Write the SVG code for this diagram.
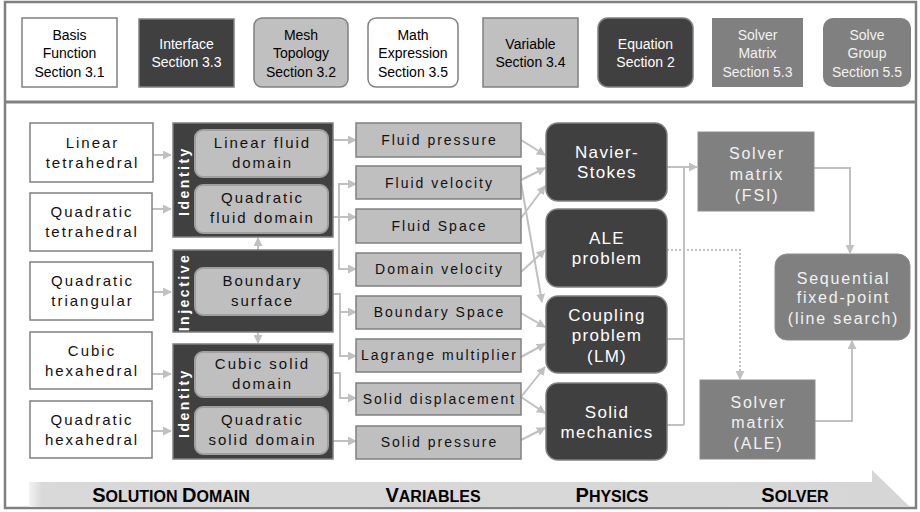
<svg xmlns="http://www.w3.org/2000/svg" width="920" height="512" viewBox="0 0 920 512">
<defs>
<marker id="ah" viewBox="0 0 10 10" refX="9" refY="5" markerWidth="9" markerHeight="9" markerUnits="userSpaceOnUse" orient="auto">
<path d="M0,0 L10,5 L0,10 z" fill="#c0c0c0"/>
</marker>
<linearGradient id="ban" x1="29" y1="0" x2="910" y2="0" gradientUnits="userSpaceOnUse">
<stop offset="0" stop-color="#f2f2f2"/>
<stop offset="0.015" stop-color="#d9d9d9"/>
<stop offset="1" stop-color="#d6d6d6"/>
</linearGradient>
</defs>
<style>
.lg{font-family:'Liberation Sans Narrow','Liberation Sans',Arial,sans-serif;font-size:14px;text-anchor:middle}
.dk{fill:#ffffff}
.bk{fill:#000000}
.mesh{fill:#ffffff;stroke:#808080;stroke-width:1.5}
.cont{fill:#404040;stroke:#808080;stroke-width:1.5}
.inner{fill:#bfbfbf;stroke:#a0a0a0;stroke-width:2}
.var{fill:#bfbfbf;stroke:#808080;stroke-width:1.5}
.phy{fill:#404040;stroke:#808080;stroke-width:1.5}
.sol{fill:#808080;stroke:#8c8c8c;stroke-width:1}
.t15{font-family:'Liberation Sans',Arial,sans-serif;font-size:15px;letter-spacing:2px;text-anchor:middle;fill:#111}
.t14{font-family:'Liberation Sans',Arial,sans-serif;font-size:14px;letter-spacing:2px;text-anchor:middle;fill:#111}
.tp{font-family:'Liberation Sans',Arial,sans-serif;font-size:17px;letter-spacing:1.3px;text-anchor:middle;fill:#ffffff}
.ts{font-family:'Liberation Sans',Arial,sans-serif;font-size:16px;letter-spacing:1.8px;text-anchor:middle;fill:#f2f2f2}
.rot{font-family:'Liberation Sans',Arial,sans-serif;font-size:14px;font-weight:bold;letter-spacing:2.5px;text-anchor:middle;fill:#ffffff}
.ban{font-family:'Liberation Sans',Arial,sans-serif;font-weight:bold;text-anchor:middle;fill:#000}
.cn{fill:none;stroke:#c0c0c0;stroke-width:2}
.cd{fill:none;stroke:#c0c0c0;stroke-width:2;stroke-dasharray:2 2}
</style>

<rect x="5" y="2" width="911" height="506" fill="#ffffff" stroke="#808080" stroke-width="2.5"/>
<line x1="5" y1="102" x2="916" y2="102" stroke="#808080" stroke-width="3"/>

<g id="legend">
<g id="leg-basis"><rect x="22" y="18" width="95" height="69" fill="#fff" stroke="#808080" stroke-width="1.5"/>
<text class="lg bk" x="69.5" y="40">Basis</text><text class="lg bk" x="69.5" y="58">Function</text><text class="lg bk" x="69.5" y="77">Section 3.1</text></g>
<g id="leg-interface"><rect x="139" y="19" width="95" height="68" fill="#404040" stroke="#808080" stroke-width="1.5"/>
<text class="lg dk" x="186.5" y="49">Interface</text><text class="lg dk" x="186.5" y="67">Section 3.3</text></g>
<g id="leg-mesh"><rect x="254" y="18" width="94" height="69" rx="8" fill="#c0c0c0" stroke="#808080" stroke-width="1.5"/>
<text class="lg bk" x="301" y="40">Mesh</text><text class="lg bk" x="301" y="58">Topology</text><text class="lg bk" x="301" y="77">Section 3.2</text></g>
<g id="leg-math"><rect x="368" y="18" width="90" height="69" rx="8" fill="#fff" stroke="#808080" stroke-width="1.5"/>
<text class="lg bk" x="413" y="40">Math</text><text class="lg bk" x="413" y="58">Expression</text><text class="lg bk" x="413" y="77">Section 3.5</text></g>
<g id="leg-variable"><rect x="483" y="18" width="95" height="69" fill="#c0c0c0" stroke="#808080" stroke-width="1.5"/>
<text class="lg bk" x="530.5" y="49">Variable</text><text class="lg bk" x="530.5" y="67">Section 3.4</text></g>
<g id="leg-equation"><rect x="598" y="18" width="95" height="69" rx="10" fill="#404040" stroke="#808080" stroke-width="1.5"/>
<text class="lg dk" x="645.5" y="49">Equation</text><text class="lg dk" x="645.5" y="67">Section 2</text></g>
<g id="leg-solvermatrix"><rect x="712" y="18" width="91" height="69" fill="#808080"/>
<text class="lg" fill="#f2f2f2" x="757.5" y="40">Solver</text><text class="lg" fill="#f2f2f2" x="757.5" y="58">Matrix</text><text class="lg" fill="#f2f2f2" x="757.5" y="77">Section 5.3</text></g>
<g id="leg-solvegroup"><rect x="823" y="18" width="88" height="69" rx="10" fill="#808080"/>
<text class="lg" fill="#f2f2f2" x="867" y="40">Solve</text><text class="lg" fill="#f2f2f2" x="867" y="58">Group</text><text class="lg" fill="#f2f2f2" x="867" y="77">Section 5.5</text></g>
</g>

<g id="banner">
<polygon points="29,482 872,482 872,470 910,507 29,507" fill="url(#ban)"/>
<text class="ban" x="171" y="502"><tspan font-size="20">S</tspan><tspan font-size="16">OLUTION </tspan><tspan font-size="20">D</tspan><tspan font-size="16">OMAIN</tspan></text>
<text class="ban" x="433" y="502"><tspan font-size="20">V</tspan><tspan font-size="16">ARIABLES</tspan></text>
<text class="ban" x="612" y="502"><tspan font-size="20">P</tspan><tspan font-size="16">HYSICS</tspan></text>
<text class="ban" x="795" y="502"><tspan font-size="20">S</tspan><tspan font-size="16">OLVER</tspan></text>
</g>

<g id="connectors">
<!-- mesh to domains -->
<line class="cn" x1="153" y1="155" x2="171" y2="155" marker-end="url(#ah)"/>
<line class="cn" x1="152" y1="209" x2="171" y2="209" marker-end="url(#ah)"/>
<line class="cn" x1="153" y1="292" x2="171" y2="292" marker-end="url(#ah)"/>
<line class="cn" x1="152" y1="374" x2="171" y2="374" marker-end="url(#ah)"/>
<line class="cn" x1="152" y1="431" x2="171" y2="431" marker-end="url(#ah)"/>
<!-- boundary surface up/down -->
<line class="cn" x1="258" y1="268" x2="258" y2="238" marker-end="url(#ah)"/>
<line class="cn" x1="258" y1="315" x2="258" y2="343" marker-end="url(#ah)"/>
<!-- domains to variables -->
<line class="cn" x1="328" y1="140" x2="356" y2="140" marker-end="url(#ah)"/>
<line class="cn" x1="328" y1="217" x2="356" y2="217" marker-end="url(#ah)"/>
<polyline class="cn" points="356,184 339,184 339,269 356,269" marker-end="url(#ah)"/>
<line class="cn" x1="339" y1="184" x2="356" y2="184" marker-end="url(#ah)"/>
<polyline class="cn" points="328,294 340,294 340,356 356,356" marker-end="url(#ah)"/>
<line class="cn" x1="340" y1="312" x2="356" y2="312" marker-end="url(#ah)"/>
<polyline class="cn" points="328,373 340,373 340,398 356,398" marker-end="url(#ah)"/>
<line class="cn" x1="328" y1="441" x2="356" y2="441" marker-end="url(#ah)"/>
<!-- variables to physics -->
<line class="cn" x1="521" y1="140" x2="545" y2="155" marker-end="url(#ah)"/>
<line class="cn" x1="521" y1="180" x2="545" y2="168" marker-end="url(#ah)"/>
<line class="cn" x1="521" y1="218" x2="545" y2="186" marker-end="url(#ah)"/>
<line class="cn" x1="521" y1="272" x2="545" y2="250" marker-end="url(#ah)"/>
<line class="cn" x1="521" y1="183" x2="542" y2="302" marker-end="url(#ah)"/>
<line class="cn" x1="521" y1="313" x2="545" y2="327" marker-end="url(#ah)"/>
<line class="cn" x1="521" y1="357" x2="545" y2="344" marker-end="url(#ah)"/>
<line class="cn" x1="521" y1="397" x2="545" y2="367" marker-end="url(#ah)"/>
<line class="cn" x1="521" y1="397" x2="545" y2="413" marker-end="url(#ah)"/>
<line class="cn" x1="521" y1="440" x2="545" y2="428" marker-end="url(#ah)"/>
<!-- physics to solver -->
<line class="cn" x1="667" y1="167" x2="697" y2="167" marker-end="url(#ah)"/>
<line class="cn" x1="684" y1="167" x2="684" y2="425"/>
<line class="cn" x1="667" y1="339" x2="684" y2="339"/>
<line class="cn" x1="667" y1="425" x2="684" y2="425"/>
<polyline class="cd" points="667,250 740,250 740,379" marker-end="url(#ah)"/>
<!-- solver to solve group -->
<polyline class="cn" points="814,168 850,168 850,253" marker-end="url(#ah)"/>
<polyline class="cn" points="815,421 852,421 852,341" marker-end="url(#ah)"/>
</g>

<g id="mesh-linear-tet"><rect class="mesh" x="30" y="123" width="123" height="59"/>
<text class="t15" x="92.5" y="148">Linear</text><text class="t15" x="92.5" y="168">tetrahedral</text></g>
<g id="mesh-quad-tet"><rect class="mesh" x="30" y="193" width="122" height="58"/>
<text class="t15" x="92" y="217">Quadratic</text><text class="t15" x="92" y="237">tetrahedral</text></g>
<g id="mesh-quad-tri"><rect class="mesh" x="30" y="262" width="123" height="58"/>
<text class="t15" x="92.5" y="286">Quadratic</text><text class="t15" x="92.5" y="306">triangular</text></g>
<g id="mesh-cubic-hex"><rect class="mesh" x="30" y="332" width="122" height="57"/>
<text class="t15" x="92" y="356">Cubic</text><text class="t15" x="92" y="376">hexahedral</text></g>
<g id="mesh-quad-hex"><rect class="mesh" x="30" y="401" width="122" height="57"/>
<text class="t15" x="92" y="425">Quadratic</text><text class="t15" x="92" y="445">hexahedral</text></g>

<g id="iface-identity-fluid"><rect class="cont" x="173" y="123" width="160" height="114"/>
<text class="rot" transform="translate(189,181) rotate(-90)">Identity</text></g>
<g id="iface-injective"><rect class="cont" x="173" y="250" width="160" height="82"/>
<text class="rot" transform="translate(189,292) rotate(-90)">Injective</text></g>
<g id="iface-identity-solid"><rect class="cont" x="173" y="344" width="160" height="115"/>
<text class="rot" transform="translate(189,403) rotate(-90)">Identity</text></g>

<g id="dom-linear-fluid"><rect class="inner" x="195" y="130" width="133" height="47" rx="8"/>
<text class="t15" x="262.5" y="148">Linear fluid</text><text class="t15" x="262.5" y="168">domain</text></g>
<g id="dom-quad-fluid"><rect class="inner" x="195" y="185" width="133" height="48" rx="8"/>
<text class="t15" x="262.5" y="203">Quadratic</text><text class="t15" x="262.5" y="223">fluid domain</text></g>
<g id="dom-boundary"><rect class="inner" x="195" y="268" width="133" height="47" rx="8"/>
<text class="t15" x="262.5" y="286">Boundary</text><text class="t15" x="262.5" y="306">surface</text></g>
<g id="dom-cubic-solid"><rect class="inner" x="195" y="352" width="133" height="45" rx="8"/>
<text class="t15" x="262.5" y="369">Cubic solid</text><text class="t15" x="262.5" y="389">domain</text></g>
<g id="dom-quad-solid"><rect class="inner" x="195" y="407" width="133" height="47" rx="8"/>
<text class="t15" x="262.5" y="425">Quadratic</text><text class="t15" x="262.5" y="445">solid domain</text></g>

<g id="var-fluid-pressure"><rect class="var" x="356" y="123" width="165" height="34"/><text class="t14" x="439.5" y="145">Fluid pressure</text></g>
<g id="var-fluid-velocity"><rect class="var" x="356" y="166" width="165" height="33"/><text class="t14" x="439.5" y="188">Fluid velocity</text></g>
<g id="var-fluid-space"><rect class="var" x="356" y="209" width="165" height="34"/><text class="t14" x="439.5" y="231">Fluid Space</text></g>
<g id="var-domain-velocity"><rect class="var" x="356" y="253" width="165" height="33"/><text class="t14" x="439.5" y="274">Domain velocity</text></g>
<g id="var-boundary-space"><rect class="var" x="356" y="296" width="165" height="33"/><text class="t14" x="439.5" y="317">Boundary Space</text></g>
<g id="var-lagrange"><rect class="var" x="356" y="339" width="165" height="33"/><text class="t14" x="439.5" y="360">Lagrange multiplier</text></g>
<g id="var-solid-disp"><rect class="var" x="356" y="383" width="165" height="32"/><text class="t14" x="439.5" y="404">Solid displacement</text></g>
<g id="var-solid-pressure"><rect class="var" x="356" y="426" width="165" height="33"/><text class="t14" x="439.5" y="447">Solid pressure</text></g>

<g id="phy-navier"><rect class="phy" x="546" y="123" width="121" height="78" rx="12"/>
<text class="tp" x="607" y="158">Navier-</text><text class="tp" x="607" y="178">Stokes</text></g>
<g id="phy-ale"><rect class="phy" x="546" y="209" width="121" height="78" rx="12"/>
<text class="tp" x="607" y="244">ALE</text><text class="tp" x="607" y="264">problem</text></g>
<g id="phy-coupling"><rect class="phy" x="546" y="296" width="121" height="77" rx="12"/>
<text class="tp" x="607" y="321">Coupling</text><text class="tp" x="607" y="341">problem</text><text class="tp" x="607" y="362">(LM)</text></g>
<g id="phy-solid"><rect class="phy" x="546" y="383" width="121" height="77" rx="12"/>
<text class="tp" x="607" y="418">Solid</text><text class="tp" x="607" y="438">mechanics</text></g>

<g id="solver-fsi"><rect class="sol" x="698" y="132" width="116" height="79"/>
<text class="ts" x="757" y="159">Solver</text><text class="ts" x="757" y="180">matrix</text><text class="ts" x="757" y="201">(FSI)</text></g>
<g id="solver-ale"><rect class="sol" x="700" y="380" width="115" height="79"/>
<text class="ts" x="758.5" y="408">Solver</text><text class="ts" x="758.5" y="428">matrix</text><text class="ts" x="758.5" y="449">(ALE)</text></g>
<g id="solve-group"><rect class="sol" x="775" y="254" width="135" height="86" rx="12"/>
<text class="ts" x="843.5" y="284">Sequential</text><text class="ts" x="843.5" y="303">fixed-point</text><text class="ts" x="843.5" y="324">(line search)</text></g>
</svg>
